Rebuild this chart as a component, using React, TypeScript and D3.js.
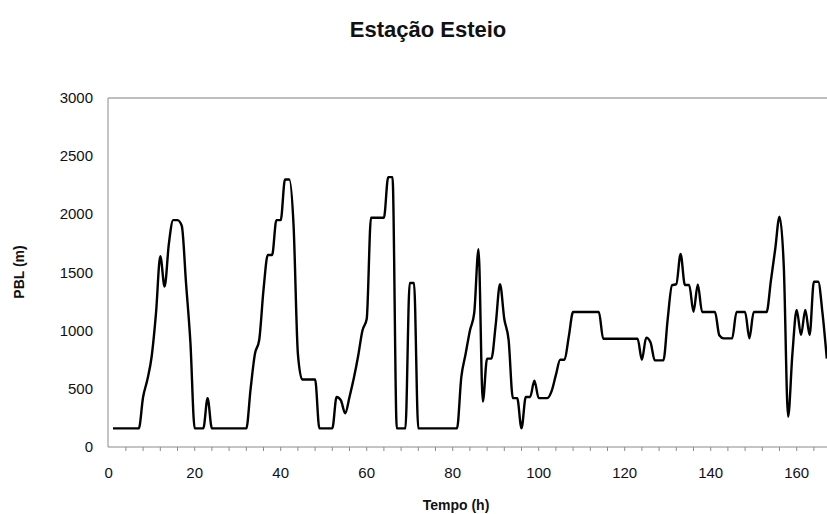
import React from 'react';
import * as d3 from 'd3';

// Hourly planetary boundary layer height (m), starting at hour 1
const pblHeight = [
  160, 160, 160, 160, 160, 160, 160, 430, 580, 780,
  1150, 1640, 1380, 1750, 1950, 1950, 1900, 1400, 900, 160,
  160, 160, 420, 160, 160, 160, 160, 160, 160, 160,
  160, 160, 500, 800, 920, 1350, 1650, 1650, 1950, 1950,
  2300, 2300, 1900, 800, 580, 580, 580, 580, 160, 160,
  160, 160, 430, 400, 290, 430, 590, 780, 1000, 1100,
  1970, 1970, 1970, 1970, 2320, 2320, 160, 160, 160, 1410,
  1410, 160, 160, 160, 160, 160, 160, 160, 160, 160,
  160, 600, 800, 1000, 1150, 1700, 390, 760, 760, 1050,
  1400, 1100, 920, 420, 420, 160, 430, 430, 570, 420,
  420, 420, 480, 620, 750, 750, 950, 1160, 1160, 1160,
  1160, 1160, 1160, 1160, 930, 930, 930, 930, 930, 930,
  930, 930, 930, 750, 940, 900, 745, 745, 745, 1100,
  1390, 1400, 1660, 1393, 1393, 1163, 1398, 1160, 1160, 1160,
  1160, 960, 934, 934, 934, 1160, 1160, 1160, 934, 1160,
  1160, 1160, 1160, 1430, 1700, 1980, 1550, 260, 800, 1178,
  963, 1178, 963, 1421, 1421, 1150, 760,
];
const firstHour = 1;

const xTickLabels = [0, 20, 40, 60, 80, 100, 120, 140, 160];
const xMinorTicks = [4, 8, 12, 16, 24, 28, 32, 36, 44, 48, 52, 56, 64, 68, 72, 76, 84, 88, 92, 96, 104, 108, 112, 116, 124, 128, 132, 136, 144, 148, 152, 156, 164];
const yTickLabels = [0, 500, 1000, 1500, 2000, 2500, 3000];

const W = 827;
const H = 514;
const left = 108;
const top = 98;
const bottom = 447;
const right = 827;

const font = '"Liberation Sans", Arial, sans-serif';

export default function App() {
  const x = d3.scaleLinear().domain([0, 160]).range([108.7, 796.7]);
  const y = d3.scaleLinear().domain([0, 3000]).range([bottom, top]);

  const line = d3
    .line<number>()
    .x((_, i) => x(i + firstHour))
    .y((d) => y(d))
    .curve(d3.curveMonotoneX);

  const allTicks = [...xTickLabels, ...xMinorTicks].filter((t) => t > 0);

  return (
    <svg
      width={W}
      height={H}
      style={{ position: 'absolute', left: 0, top: 0, background: '#fff' }}
    >
      <defs>
        <clipPath id="plot-clip">
          <rect x={left} y={top - 20} width={right - left} height={bottom - top + 40} />
        </clipPath>
      </defs>

      <text
        x={428}
        y={37}
        textAnchor="middle"
        fontFamily={font}
        fontWeight="bold"
        fontSize={22}
        fill="#111"
      >
        Estação Esteio
      </text>

      {/* plot frame: top border and axes */}
      <line x1={left} x2={right} y1={top} y2={top} stroke="#7f7f7f" strokeWidth={1} />
      <line x1={left} x2={left} y1={top} y2={bottom} stroke="#8a8a8a" strokeWidth={1} />
      <line x1={left} x2={right} y1={bottom} y2={bottom} stroke="#8a8a8a" strokeWidth={1} />

      {allTicks.map((t) => (
        <line
          key={t}
          x1={x(t)}
          x2={x(t)}
          y1={bottom}
          y2={bottom + 4}
          stroke="#8a8a8a"
          strokeWidth={1}
        />
      ))}

      {yTickLabels.map((t) => (
        <text
          key={t}
          x={93}
          y={y(t) + 5}
          textAnchor="end"
          fontFamily={font}
          fontSize={15}
          fill="#111"
        >
          {t}
        </text>
      ))}

      {xTickLabels.map((t) => (
        <text
          key={t}
          x={x(t)}
          y={478}
          textAnchor="middle"
          fontFamily={font}
          fontSize={15}
          fill="#111"
        >
          {t}
        </text>
      ))}

      <text
        x={456}
        y={510}
        textAnchor="middle"
        fontFamily={font}
        fontWeight="bold"
        fontSize={14}
        fill="#111"
      >
        Tempo (h)
      </text>
      <text
        transform={`translate(24, 272) rotate(-90)`}
        textAnchor="middle"
        fontFamily={font}
        fontWeight="bold"
        fontSize={14}
        fill="#111"
      >
        PBL (m)
      </text>

      <g clipPath="url(#plot-clip)">
        <path
          d={line(pblHeight) ?? ''}
          fill="none"
          stroke="#000"
          strokeWidth={2.4}
          strokeLinejoin="round"
        />
      </g>
    </svg>
  );
}
